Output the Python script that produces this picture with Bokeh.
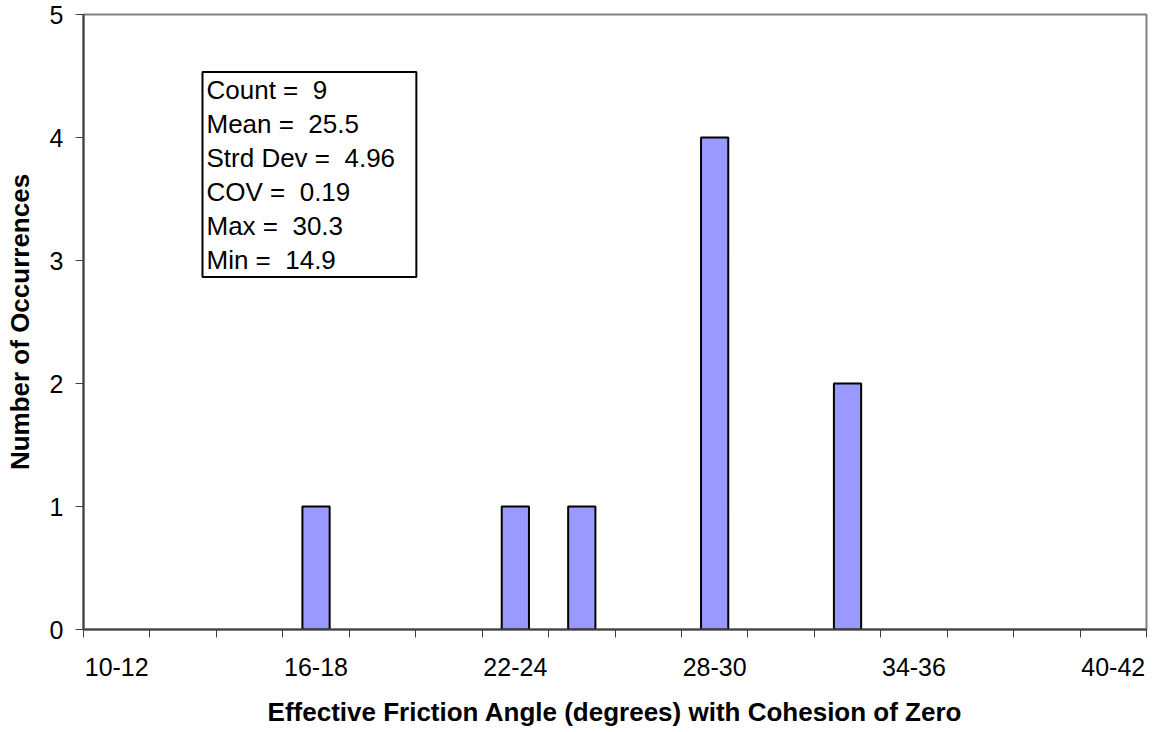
from bokeh.plotting import figure
from bokeh.models import FixedTicker, Range1d, ColumnDataSource
from bokeh.core.properties import value
from bokeh.embed import file_html
from bokeh.resources import INLINE

categories = ["10-12", "12-14", "14-16", "16-18", "18-20", "20-22", "22-24", "24-26",
              "26-28", "28-30", "30-32", "32-34", "34-36", "36-38", "38-40", "40-42"]
counts = [0, 0, 0, 1, 0, 0, 1, 1, 0, 4, 0, 2, 0, 0, 0, 0]
labeled = ["10-12", "16-18", "22-24", "28-30", "34-36", "40-42"]
y_ticks = [0, 1, 2, 3, 4, 5]
stats_lines = ["Count = \u00a09", "Mean = \u00a025.5", "Strd Dev = \u00a04.96",
               "COV = \u00a00.19", "Max = \u00a030.3", "Min = \u00a014.9"]

FONT = "Liberation Sans"

p = figure(frame_width=1063, frame_height=615, output_backend="svg", toolbar_location=None,
           x_range=Range1d(0, len(categories)), y_range=Range1d(0, 5),
           min_border_left=83, min_border_top=14, min_border_right=4, min_border_bottom=10)
p.grid.visible = False
p.outline_line_color = "#808080"
p.outline_line_width = 2
p.background_fill_color = "white"
p.border_fill_color = "white"

xs = [i + 0.5 for i in range(len(categories))]
src = ColumnDataSource(dict(x=[xs[i] for i, c in enumerate(counts) if c > 0],
                            top=[c for c in counts if c > 0]))
p.vbar(x="x", top="top", bottom=0, width=0.41, source=src,
       fill_color="#9999FF", line_color="black", line_width=2)

# x axis
label_pos = [categories.index(c) + 0.5 for c in labeled]
p.xaxis.ticker = FixedTicker(ticks=label_pos, minor_ticks=list(range(len(categories) + 1)))
p.xaxis.major_label_overrides = {pos: lab for pos, lab in zip(label_pos, labeled)}
p.xaxis.major_tick_out = 0
p.xaxis.major_tick_in = 0
p.xaxis.minor_tick_out = 8
p.xaxis.minor_tick_in = 0
p.xaxis.major_label_standoff = 20
p.xaxis.axis_label = "Effective Friction Angle (degrees) with Cohesion of Zero"
p.xaxis.axis_label_standoff = 18

# y axis
p.yaxis.ticker = FixedTicker(ticks=y_ticks)
p.yaxis.major_tick_out = 8
p.yaxis.major_tick_in = 0
p.yaxis.major_label_standoff = 12
p.yaxis.axis_label = "Number of Occurrences"
p.yaxis.axis_label_standoff = 12

for ax in (p.xaxis[0], p.yaxis[0]):
    ax.axis_line_color = "#404040"
    ax.axis_line_width = 2
    ax.major_tick_line_color = "#404040"
    ax.minor_tick_line_color = "#404040" if ax is p.xaxis[0] else None
    ax.major_tick_line_width = 1
    ax.minor_tick_line_width = 1
    ax.major_label_text_font = FONT
    ax.major_label_text_font_size = "25px"
    ax.major_label_text_color = "black"
    ax.axis_label_text_font = FONT
    ax.axis_label_text_font_size = "26px"
    ax.axis_label_text_font_style = "bold"
    ax.axis_label_text_color = "black"

# stats box
p.quad(left=1.791, right=5.01, bottom=2.865, top=4.532,
       fill_color="white", line_color="black", line_width=2)
line_y = [4.385 - 0.2764 * i for i in range(len(stats_lines))]
p.text(x=[1.851] * len(stats_lines), y=line_y, text=stats_lines,
       text_font=value(FONT), text_font_size="26px", text_color="black",
       text_baseline="middle", text_align="left")

open("out.html", "w").write(file_html(p, INLINE))
